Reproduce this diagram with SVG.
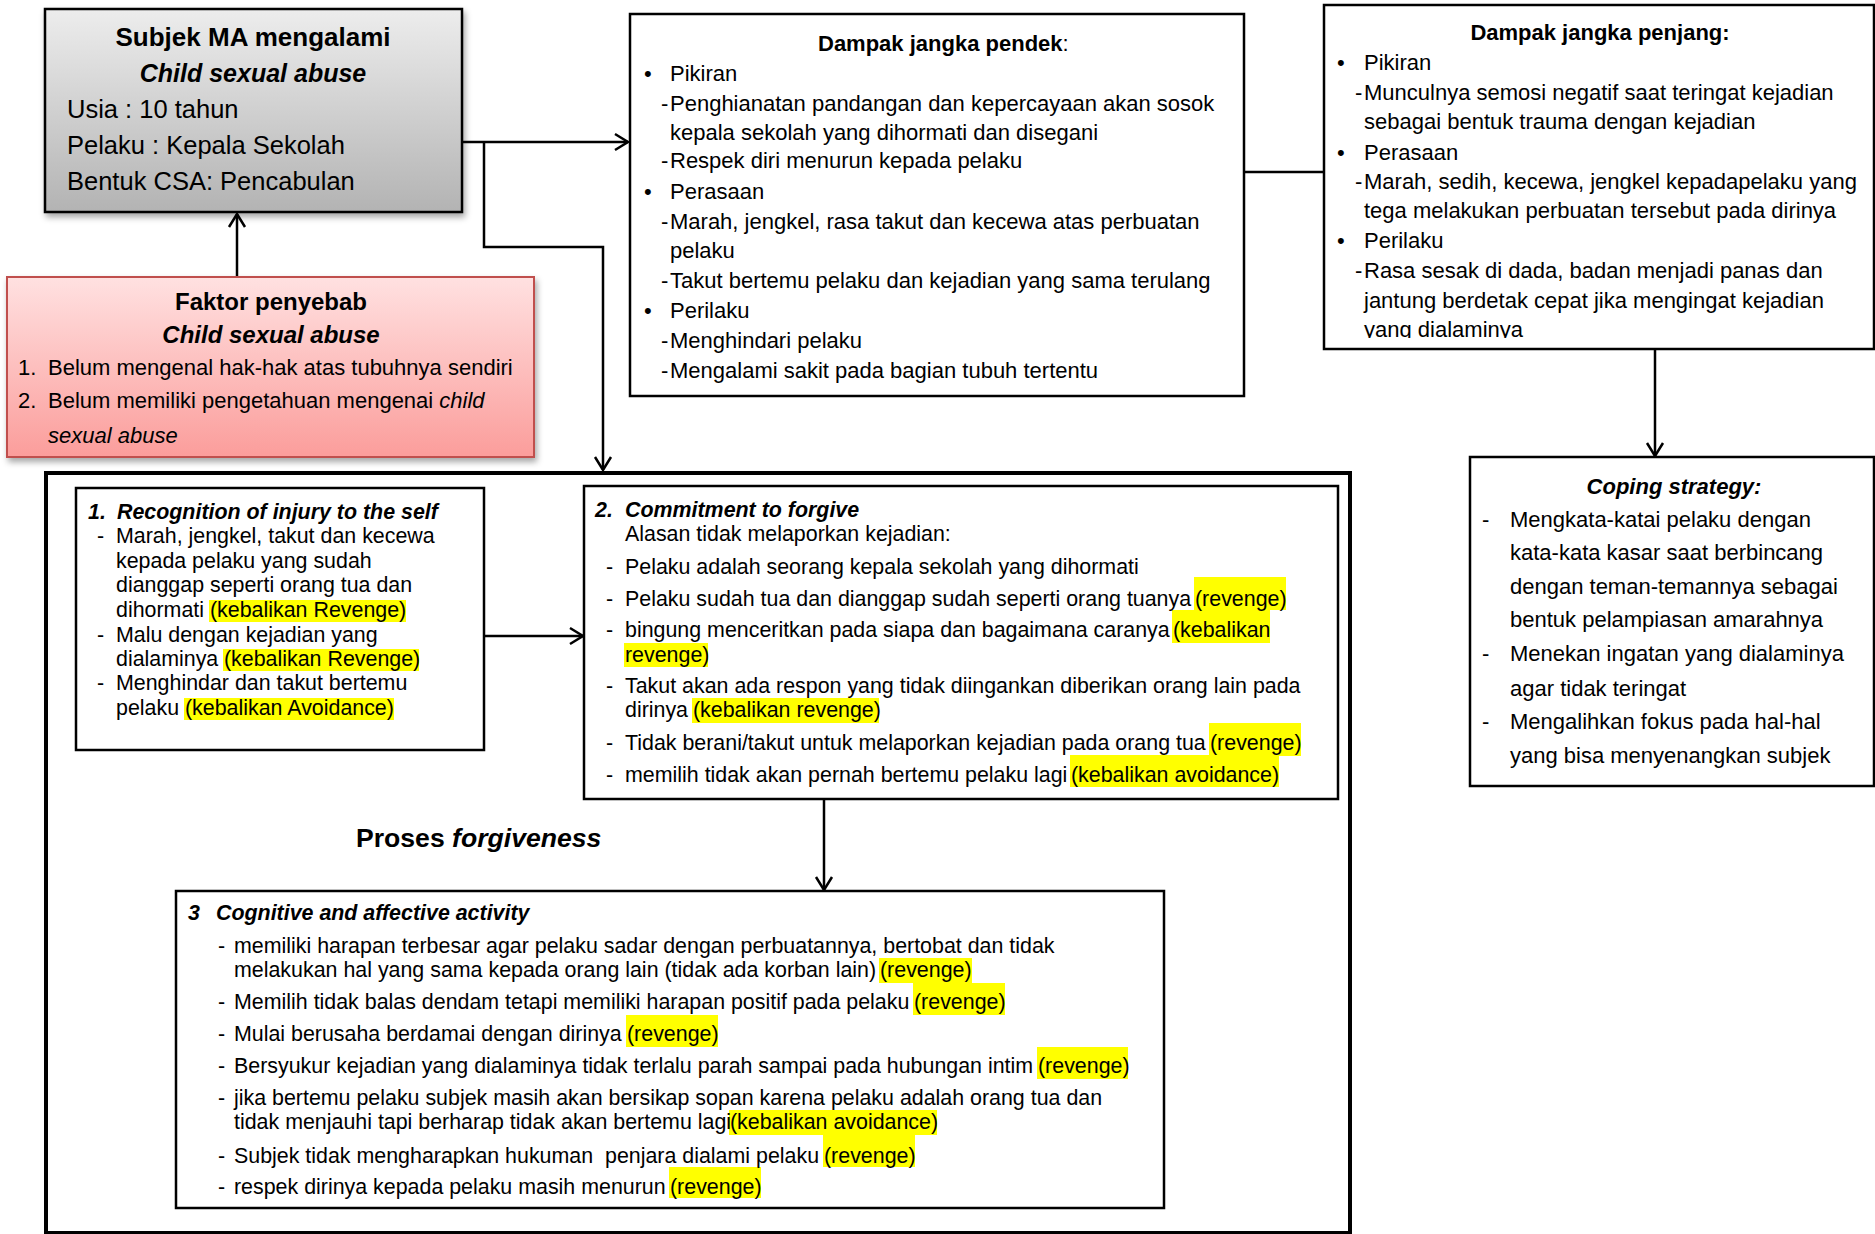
<svg xmlns="http://www.w3.org/2000/svg" width="1875" height="1234" viewBox="0 0 1875 1234">
<style>
text { font-family: 'Liberation Sans', Arial, sans-serif; fill: #000; }
.t22 { font-size: 22px; }
.t21 { font-size: 21.4px; }
.b { font-weight: bold; }
.i { font-style: italic; }
.box { fill: #fff; stroke: #000; stroke-width: 2.5; }
.hl { fill: #ffff00; }
.con { fill: none; stroke: #000; stroke-width: 2.5; }
</style>
<defs>
<linearGradient id="gGray" x1="0" y1="0" x2="0" y2="1">
<stop offset="0" stop-color="#ededed"/>
<stop offset="1" stop-color="#b3b3b3"/>
</linearGradient>
<linearGradient id="gRed" x1="0" y1="0" x2="0" y2="1">
<stop offset="0" stop-color="#ffe1e1"/>
<stop offset="1" stop-color="#fb9d9b"/>
</linearGradient>
<filter id="shadow" x="-10%" y="-10%" width="120%" height="130%">
<feDropShadow dx="2" dy="4" stdDeviation="3" flood-color="#000" flood-opacity="0.35"/>
</filter>
<marker id="arr" viewBox="-15 -10 17 20" refX="0" refY="0" markerWidth="17" markerHeight="20" markerUnits="userSpaceOnUse" orient="auto">
<path d="M-13,-8 L0,0 L-13,8" fill="none" stroke="#000" stroke-width="2.5"/>
</marker>
<clipPath id="clipLong">
<rect x="1320" y="0" width="555" height="338"/>
</clipPath>
</defs>

<g id="connectors">
<line class="con" x1="237" y1="277" x2="237" y2="214" marker-end="url(#arr)"/>
<line class="con" x1="462" y1="142" x2="628" y2="142" marker-end="url(#arr)"/>
<polyline class="con" points="484,142 484,247 603,247 603,470" marker-end="url(#arr)"/>
<line class="con" x1="1244" y1="172" x2="1324" y2="172"/>
<line class="con" x1="1655" y1="349" x2="1655" y2="456" marker-end="url(#arr)"/>
<line class="con" x1="484" y1="636" x2="583" y2="636" marker-end="url(#arr)"/>
<line class="con" x1="824" y1="800" x2="824" y2="890" marker-end="url(#arr)"/>
</g>

<g id="n-subjek">
<rect x="45" y="9" width="417" height="203" fill="url(#gGray)" stroke="#000" stroke-width="2.5" filter="url(#shadow)"/>
<text x="253" y="46" text-anchor="middle" class="b" font-size="26">Subjek MA mengalami</text>
<text x="253" y="82" text-anchor="middle" class="b i" font-size="25">Child sexual abuse</text>
<text x="67" y="118" font-size="25.5">Usia : 10 tahun</text>
<text x="67" y="154" font-size="25.5">Pelaku : Kepala Sekolah</text>
<text x="67" y="190" font-size="25.5">Bentuk CSA: Pencabulan</text>
</g>

<g id="n-faktor">
<rect x="7" y="277" width="527" height="180" fill="url(#gRed)" stroke="#c0504d" stroke-width="2" filter="url(#shadow)"/>
<text x="271" y="310" text-anchor="middle" class="b" font-size="24">Faktor penyebab</text>
<text x="271" y="343" text-anchor="middle" class="b i" font-size="24">Child sexual abuse</text>
<text x="18" y="375" class="t22">1.</text>
<text x="48" y="375" class="t22">Belum mengenal hak-hak atas tubuhnya sendiri</text>
<text x="18" y="408" class="t22">2.</text>
<text x="48" y="408" class="t22">Belum memiliki pengetahuan mengenai <tspan class="i">child</tspan></text>
<text x="48" y="443" class="t22 i">sexual abuse</text>
</g>

<g id="n-pendek">
<rect class="box" x="630" y="14" width="614" height="382"/>
<text x="818" y="51" class="t22"><tspan class="b">Dampak jangka pendek</tspan>:</text>
<text x="644" y="81" class="t22">•</text><text x="670" y="81" class="t22">Pikiran</text>
<text x="661" y="111" class="t22">-</text><text x="670" y="111" class="t22">Penghianatan pandangan dan kepercayaan akan sosok</text>
<text x="670" y="140" class="t22">kepala sekolah yang dihormati dan disegani</text>
<text x="661" y="168" class="t22">-</text><text x="670" y="168" class="t22">Respek diri menurun kepada pelaku</text>
<text x="644" y="199" class="t22">•</text><text x="670" y="199" class="t22">Perasaan</text>
<text x="661" y="229" class="t22">-</text><text x="670" y="229" class="t22">Marah, jengkel, rasa takut dan kecewa atas perbuatan</text>
<text x="670" y="258" class="t22">pelaku</text>
<text x="661" y="288" class="t22">-</text><text x="670" y="288" class="t22">Takut bertemu pelaku dan kejadian yang sama terulang</text>
<text x="644" y="318" class="t22">•</text><text x="670" y="318" class="t22">Perilaku</text>
<text x="661" y="348" class="t22">-</text><text x="670" y="348" class="t22">Menghindari pelaku</text>
<text x="661" y="378" class="t22">-</text><text x="670" y="378" class="t22">Mengalami sakit pada bagian tubuh tertentu</text>
</g>

<g id="n-penjang">
<rect class="box" x="1324" y="5" width="550" height="344"/>
<text x="1600" y="40" text-anchor="middle" class="t22 b">Dampak jangka penjang:</text>
<g clip-path="url(#clipLong)">
<text x="1337" y="70" class="t22">•</text><text x="1364" y="70" class="t22">Pikiran</text>
<text x="1355" y="100" class="t22">-</text><text x="1364" y="100" class="t22">Munculnya semosi negatif saat teringat kejadian</text>
<text x="1364" y="129" class="t22">sebagai bentuk trauma dengan kejadian</text>
<text x="1337" y="160" class="t22">•</text><text x="1364" y="160" class="t22">Perasaan</text>
<text x="1355" y="189" class="t22">-</text><text x="1364" y="189" class="t22">Marah, sedih, kecewa, jengkel kepadapelaku yang</text>
<text x="1364" y="218" class="t22">tega melakukan perbuatan tersebut pada dirinya</text>
<text x="1337" y="248" class="t22">•</text><text x="1364" y="248" class="t22">Perilaku</text>
<text x="1355" y="278" class="t22">-</text><text x="1364" y="278" class="t22">Rasa sesak di dada, badan menjadi panas dan</text>
<text x="1364" y="308" class="t22">jantung berdetak cepat jika mengingat kejadian</text>
<text x="1364" y="337" class="t22">yang dialaminya</text>
</g>
</g>

<g id="n-coping">
<rect class="box" x="1470" y="457" width="404" height="329"/>
<text x="1674" y="494" text-anchor="middle" class="t22 b i">Coping strategy:</text>
<text x="1482" y="527" class="t22">-</text><text x="1510" y="527" class="t22">Mengkata-katai pelaku dengan</text>
<text x="1510" y="560" class="t22">kata-kata kasar saat berbincang</text>
<text x="1510" y="594" class="t22">dengan teman-temannya sebagai</text>
<text x="1510" y="627" class="t22">bentuk pelampiasan amarahnya</text>
<text x="1482" y="661" class="t22">-</text><text x="1510" y="661" class="t22">Menekan ingatan yang dialaminya</text>
<text x="1510" y="696" class="t22">agar tidak teringat</text>
<text x="1482" y="729" class="t22">-</text><text x="1510" y="729" class="t22">Mengalihkan fokus pada hal-hal</text>
<text x="1510" y="763" class="t22">yang bisa menyenangkan subjek</text>
</g>

<g id="n-proses">
<rect x="46" y="473" width="1304" height="760" fill="none" stroke="#000" stroke-width="4"/>
<text x="356" y="847" class="b" font-size="26.6">Proses <tspan class="i">forgiveness</tspan></text>
</g>

<g id="n-step1">
<rect class="box" x="76" y="488" width="408" height="262"/>
<rect class="hl" x="209" y="600" width="197" height="22"/>
<rect class="hl" x="223" y="649" width="196" height="22"/>
<rect class="hl" x="184" y="698" width="210" height="22"/>
<text x="88" y="519" class="t21 b i">1.</text>
<text x="117" y="519" class="t21 b i">Recognition of injury to the self</text>
<text x="97" y="543" class="t21">-</text><text x="116" y="543" class="t21">Marah, jengkel, takut dan kecewa</text>
<text x="116" y="568" class="t21">kepada pelaku yang sudah</text>
<text x="116" y="592" class="t21">dianggap seperti orang tua dan</text>
<text x="116" y="617" class="t21">dihormati</text><text x="210" y="617" class="t21">(kebalikan Revenge)</text>
<text x="97" y="642" class="t21">-</text><text x="116" y="642" class="t21">Malu dengan kejadian yang</text>
<text x="116" y="666" class="t21">dialaminya</text><text x="224" y="666" class="t21">(kebalikan Revenge)</text>
<text x="97" y="690" class="t21">-</text><text x="116" y="690" class="t21">Menghindar dan takut bertemu</text>
<text x="116" y="715" class="t21">pelaku</text><text x="185" y="715" class="t21">(kebalikan Avoidance)</text>
</g>

<g id="n-step2">
<rect class="box" x="584" y="486" width="754" height="313"/>
<rect class="hl" x="1194" y="577" width="92" height="33"/>
<rect class="hl" x="1172" y="610" width="98" height="33"/>
<rect class="hl" x="624" y="643" width="84" height="24"/>
<rect class="hl" x="692" y="698" width="187" height="25"/>
<rect class="hl" x="1209" y="723" width="92" height="33"/>
<rect class="hl" x="1070" y="755" width="209" height="32"/>
<text x="595" y="517" class="t21 b i">2.</text>
<text x="625" y="517" class="t21 b i">Commitment to forgive</text>
<text x="625" y="541" class="t21">Alasan tidak melaporkan kejadian:</text>
<text x="606" y="574" class="t21">-</text><text x="625" y="574" class="t21">Pelaku adalah seorang kepala sekolah yang dihormati</text>
<text x="606" y="606" class="t21">-</text><text x="625" y="606" class="t21">Pelaku sudah tua dan dianggap sudah seperti orang tuanya</text><text x="1195" y="606" class="t21">(revenge)</text>
<text x="606" y="637" class="t21">-</text><text x="625" y="637" class="t21">bingung menceritkan pada siapa dan bagaimana caranya</text><text x="1173" y="637" class="t21">(kebalikan</text>
<text x="625" y="662" class="t21">revenge)</text>
<text x="606" y="693" class="t21">-</text><text x="625" y="693" class="t21">Takut akan ada respon yang tidak diingankan diberikan orang lain pada</text>
<text x="625" y="717" class="t21">dirinya</text><text x="693" y="717" class="t21">(kebalikan revenge)</text>
<text x="606" y="750" class="t21">-</text><text x="625" y="750" class="t21">Tidak berani/takut untuk melaporkan kejadian pada orang tua</text><text x="1210" y="750" class="t21">(revenge)</text>
<text x="606" y="782" class="t21">-</text><text x="625" y="782" class="t21">memilih tidak akan pernah bertemu pelaku lagi</text><text x="1071" y="782" class="t21">(kebalikan avoidance)</text>
</g>

<g id="n-step3">
<rect class="box" x="176" y="891" width="988" height="317"/>
<rect class="hl" x="879" y="958" width="93" height="25"/>
<rect class="hl" x="913" y="983" width="92" height="32"/>
<rect class="hl" x="626" y="1015" width="92" height="32"/>
<rect class="hl" x="1037" y="1047" width="91" height="32"/>
<rect class="hl" x="729" y="1110" width="208" height="25"/>
<rect class="hl" x="823" y="1135" width="92" height="32"/>
<rect class="hl" x="669" y="1167" width="92" height="31"/>
<text x="188" y="920" class="t21 b i">3</text>
<text x="216" y="920" class="t21 b i">Cognitive and affective activity</text>
<text x="218" y="953" class="t21">-</text><text x="234" y="953" class="t21">memiliki harapan terbesar agar pelaku sadar dengan perbuatannya, bertobat dan tidak</text>
<text x="234" y="977" class="t21">melakukan hal yang sama kepada orang lain (tidak ada korban lain)</text><text x="880" y="977" class="t21">(revenge)</text>
<text x="218" y="1009" class="t21">-</text><text x="234" y="1009" class="t21">Memilih tidak balas dendam tetapi memiliki harapan positif pada pelaku</text><text x="914" y="1009" class="t21">(revenge)</text>
<text x="218" y="1041" class="t21">-</text><text x="234" y="1041" class="t21">Mulai berusaha berdamai dengan dirinya</text><text x="627" y="1041" class="t21">(revenge)</text>
<text x="218" y="1073" class="t21">-</text><text x="234" y="1073" class="t21">Bersyukur kejadian yang dialaminya tidak terlalu parah sampai pada hubungan intim</text><text x="1038" y="1073" class="t21">(revenge)</text>
<text x="218" y="1105" class="t21">-</text><text x="234" y="1105" class="t21">jika bertemu pelaku subjek masih akan bersikap sopan karena pelaku adalah orang tua dan</text>
<text x="234" y="1129" class="t21">tidak menjauhi tapi berharap tidak akan bertemu lagi</text><text x="730" y="1129" class="t21">(kebalikan avoidance)</text>
<text x="218" y="1163" class="t21">-</text><text x="234" y="1163" class="t21" xml:space="preserve">Subjek tidak mengharapkan hukuman  penjara dialami pelaku</text><text x="824" y="1163" class="t21">(revenge)</text>
<text x="218" y="1194" class="t21">-</text><text x="234" y="1194" class="t21">respek dirinya kepada pelaku masih menurun</text><text x="670" y="1194" class="t21">(revenge)</text>
</g>
</svg>
